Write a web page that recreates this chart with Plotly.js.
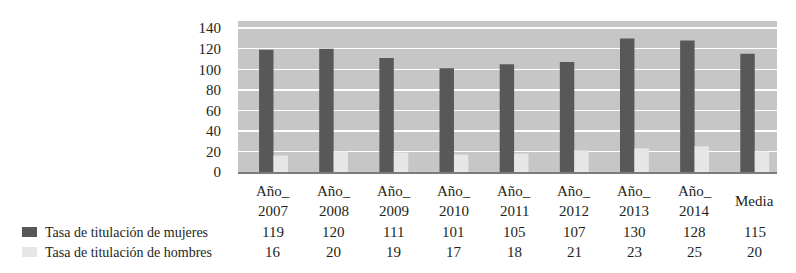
<!DOCTYPE html>
<html>
<head>
<meta charset="utf-8">
<script src="https://cdn.plot.ly/plotly-3.0.1.min.js"></script>
<style>
html,body{margin:0;padding:0;background:#fff;}
#chart{width:796px;height:273px;}
</style>
</head>
<body>
<div id="chart"></div>
<script>
const categories = ["Año_ 2007","Año_ 2008","Año_ 2009","Año_ 2010","Año_ 2011","Año_ 2012","Año_ 2013","Año_ 2014","Media"];
const labelTop = ["Año_","Año_","Año_","Año_","Año_","Año_","Año_","Año_",""];
const labelBottom = ["2007","2008","2009","2010","2011","2012","2013","2014",""];
const singleLabel = ["","","","","","","","","Media"];
const mujeres = [119,120,111,101,105,107,130,128,115];
const hombres = [16,20,19,17,18,21,23,25,20];
const seriesNames = ["Tasa de titulación de mujeres","Tasa de titulación de hombres"];
const yTicks = [0,20,40,60,80,100,120,140];

const darkColor = "#58585a";
const lightColor = "#e6e6e6";
const textColor = "#231f20";
const fam = "Liberation Serif, Times New Roman, serif";
const font = {family:fam, size:14, color:textColor};
const tableFont = {family:fam, size:15, color:textColor};

const traces = [
  {type:"bar", x:categories, y:mujeres, name:seriesNames[0], marker:{color:darkColor}, hoverinfo:"skip"},
  {type:"bar", x:categories, y:hombres, name:seriesNames[1], marker:{color:lightColor}, hoverinfo:"skip"}
];

const plotBottom = 172;
const ann = [];
function addRow(texts, centerPx){
  texts.forEach((t,i)=>{
    if(t==="") return;
    ann.push({xref:"x", yref:"paper", x:categories[i], y:0, yanchor:"middle", xanchor:"center",
      yshift: plotBottom - centerPx, text:String(t), showarrow:false, font:tableFont});
  });
}
addRow(labelTop, 191);
addRow(labelBottom, 211);
addRow(singleLabel, 201);
addRow(mujeres, 232);
addRow(hombres, 252);

const legendRows = [232, 252];
const legendColors = [darkColor, lightColor];
const shapes = [];
seriesNames.forEach((n,k)=>{
  ann.push({xref:"paper", yref:"paper", x:0, y:0, xanchor:"left", yanchor:"middle",
    xshift: 43-238, yshift: plotBottom - legendRows[k], text:n, showarrow:false, font:font});
  shapes.push({type:"rect", xref:"paper", yref:"paper", xsizemode:"pixel", ysizemode:"pixel",
    xanchor:0, yanchor:0, x0:22-238, x1:37-238, y0:plotBottom-legendRows[k]-5, y1:plotBottom-legendRows[k]+5,
    fillcolor:legendColors[k], line:{width:0}});
});

const layout = {
  width:796, height:273,
  margin:{l:238, r:19, t:21, b:101, pad:0},
  paper_bgcolor:"#ffffff",
  plot_bgcolor:"#c6c6c6",
  showlegend:false,
  barmode:"group",
  bargap:0.52,
  bargroupgap:0,
  font:font,
  xaxis:{type:"category", range:[-0.59, 8.37], showticklabels:false, ticks:"", showgrid:false,
    showline:true, linecolor:"#7b7b7b", linewidth:2, zeroline:false, fixedrange:true},
  yaxis:{range:[0,147], tickvals:yTicks, ticktext:yTicks.map(String), showgrid:true,
    gridcolor:"#ffffff", gridwidth:1.5, zeroline:false, showline:false, ticks:"",
    ticklabelstandoff:16, tickfont:{family:fam, size:15, color:textColor}, fixedrange:true},
  annotations:ann,
  shapes:shapes
};

Plotly.newPlot("chart", traces, layout, {displayModeBar:false, staticPlot:true});
</script>
</body>
</html>
